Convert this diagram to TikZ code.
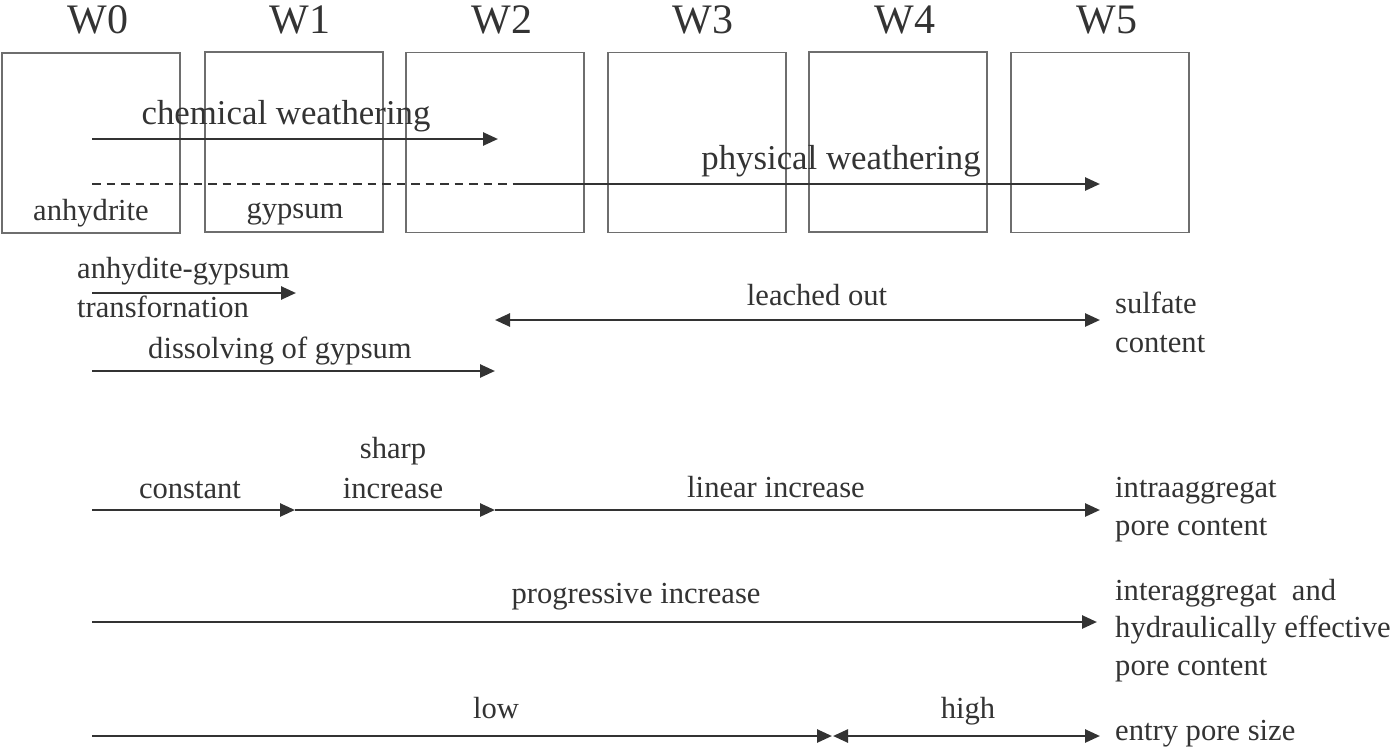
\documentclass[tikz,border=0pt]{standalone}
\usepackage{fontspec}
\setmainfont{Liberation Serif}
\usetikzlibrary{arrows.meta}
\definecolor{ink}{HTML}{333333}
\definecolor{boxc}{HTML}{6E6E6E}
\begin{document}
\begin{tikzpicture}[x=1pt,y=-1pt,
  wbox/.style={draw=boxc,line width=1.5pt,minimum width=178pt,minimum height=180pt,inner sep=0pt},
  wlab/.style={text=ink,anchor=base,font=\fontsize{42}{46}\selectfont,inner sep=0pt},
  big/.style={text=ink,anchor=base,font=\fontsize{34.8}{38}\selectfont,inner sep=0pt},
  lab/.style={text=ink,anchor=base,font=\fontsize{30.6}{34}\selectfont,inner sep=0pt},
  labl/.style={lab,anchor=base west},
  arr/.style={draw=ink,line width=2.6pt,-{Triangle[length=15pt,width=13pt]}},
  darr/.style={draw=ink,line width=2.6pt,{Triangle[length=15pt,width=13pt]}-{Triangle[length=15pt,width=13pt]}}]
\useasboundingbox (0,0) rectangle (1393,748);
% boxes
\node[wbox] (b0) at (91,143) {};
\node[wbox] (b1) at (294,142) {};
\node[wbox] (b2) at (495,142.5) {};
\node[wbox] (b3) at (697,142.5) {};
\node[wbox] (b4) at (898,142) {};
\node[wbox] (b5) at (1100,142.5) {};
% W labels
\node[wlab] (w0) at (98,33) {W0};
\node[wlab] (w1) at (300,33) {W1};
\node[wlab] (w2) at (502,33) {W2};
\node[wlab] (w3) at (703,33) {W3};
\node[wlab] (w4) at (905,33) {W4};
\node[wlab] (w5) at (1107,33) {W5};
% weathering
\node[big] (tchem) at (286,124) {chemical weathering};
\coordinate (c1) at (92,139); \coordinate (c2) at (498,139);
\draw[arr] (c1) -- (c2);
\node[big] (tphys) at (841,169) {physical weathering};
\coordinate (p0) at (92,184); \coordinate (p1) at (515,184); \coordinate (p2) at (1100,184);
\draw[draw=ink,line width=2.3pt,dash pattern=on 8.5pt off 6pt] (p0) -- (p1);
\draw[arr] (p1) -- (p2);
\node[lab] (tanh) at (91,220) {anhydrite};
\node[lab] (tgyp) at (295,218) {gypsum};
% sulfate
\node[labl] (tag1) at (77,278) {anhydite-gypsum};
\node[labl] (tag2) at (77,317) {transfornation};
\coordinate (a1) at (92,293); \coordinate (a2) at (296,293);
\draw[arr] (a1) -- (a2);
\node[lab] (tdis) at (280,358) {dissolving of gypsum};
\coordinate (d1) at (92,371); \coordinate (d2) at (495,371);
\draw[arr] (d1) -- (d2);
\node[lab] (tlea) at (817,305) {leached out};
\coordinate (l1) at (495,320); \coordinate (l2) at (1100,320);
\draw[darr] (l1) -- (l2);
\node[labl] (ts1) at (1115,313) {sulfate};
\node[labl] (ts2) at (1115,352) {content};
% intraaggregat
\node[lab] (tcon) at (190,498) {constant};
\node[lab] (tsh1) at (393,458) {sharp};
\node[lab] (tsh2) at (393,498) {increase};
\node[lab] (tlin) at (776,497) {linear increase};
\coordinate (i1) at (92,510); \coordinate (i2) at (295,510);
\coordinate (i3) at (495,510); \coordinate (i4) at (1100,510);
\draw[arr] (i1) -- (i2);
\draw[arr] (i2) -- (i3);
\draw[arr] (i3) -- (i4);
\node[labl] (ti1) at (1115,497) {intraaggregat};
\node[labl] (ti2) at (1115,535) {pore content};
% interaggregat
\node[lab] (tpro) at (636,603) {progressive increase};
\coordinate (g1) at (92,622); \coordinate (g2) at (1097,622);
\draw[arr] (g1) -- (g2);
\node[labl] (tn1) at (1115,600) {interaggregat\ \ and};
\node[labl] (tn2) at (1115,637) {hydraulically effective};
\node[labl] (tn3) at (1115,675) {pore content};
% entry pore size
\node[lab] (tlow) at (496,718) {low};
\node[lab] (thigh) at (968,718) {high};
\coordinate (e1) at (92,736); \coordinate (e2) at (832,736); \coordinate (e3) at (1100,736);
\draw[arr] (e1) -- (e2);
\draw[darr] ([xshift=1pt]e2) -- (e3);
\node[labl] (te) at (1115,740) {entry pore size};
\end{tikzpicture}
\end{document}
